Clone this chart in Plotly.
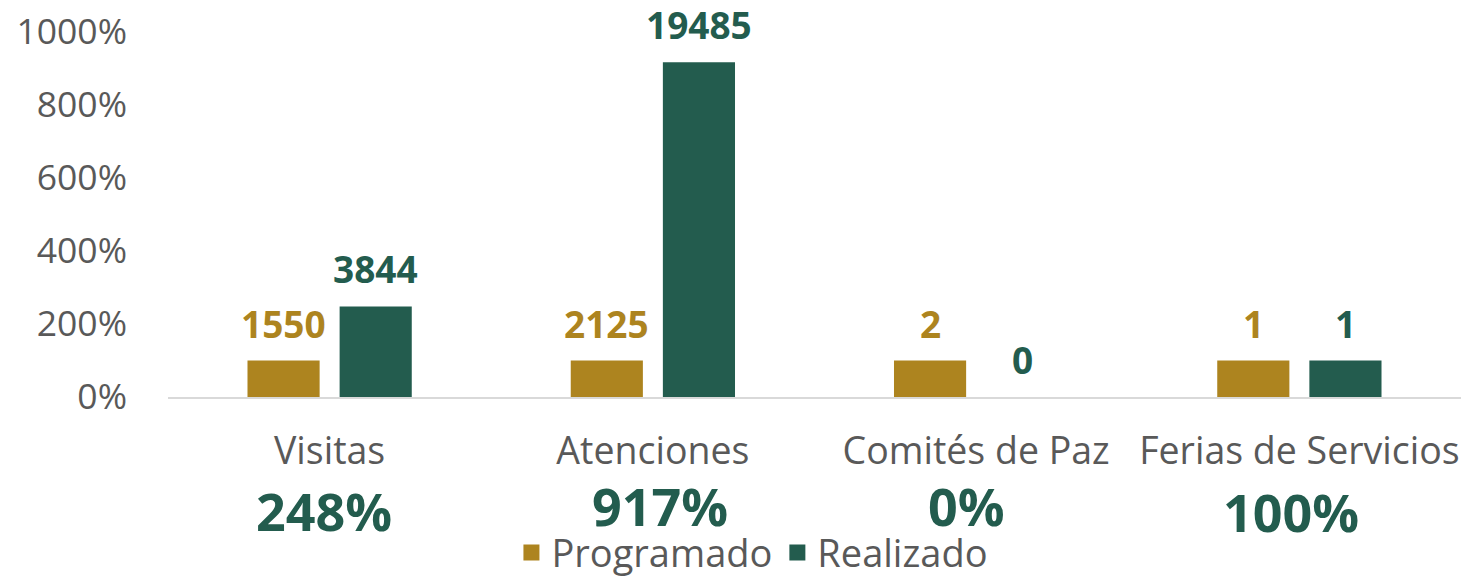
import plotly.graph_objects as go

categories = ["Visitas", "Atenciones", "Comités de Paz", "Ferias de Servicios"]
programado_counts = [1550, 2125, 2, 1]
realizado_counts = [3844, 19485, 0, 1]
programado_pct = [100, 100, 100, 100]
realizado_pct = [248, 917, 0, 100]
pct_labels = ["248%", "917%", "0%", "100%"]
y_ticks = [0, 200, 400, 600, 800, 1000]
y_ticklabels = ["0%", "200%", "400%", "600%", "800%", "1000%"]

GOLD = "#AD841F"
GREEN = "#235C4E"
GRAY = "#595959"
FONT = "Open Sans"

fig = go.Figure()
series = [
    ("Programado", programado_pct, programado_counts, GOLD, -46),
    ("Realizado", realizado_pct, realizado_counts, GREEN, 46),
]
for name, pct, counts, color, xs in series:
    fig.add_trace(go.Bar(
        name=name, x=categories, y=pct,
        marker=dict(color=color, line=dict(width=0)),
        showlegend=False, hoverinfo="skip",
    ))
    # legend proxy with a larger square symbol
    fig.add_trace(go.Scatter(
        name=name, x=[None], y=[None], mode="markers",
        marker=dict(symbol="square", size=24, color=color),
        showlegend=True, hoverinfo="skip",
    ))
    for cat, v, c in zip(categories, pct, counts):
        fig.add_annotation(
            x=cat, xref="x", y=v, yref="y", xshift=xs, yshift=10,
            text="<b>" + str(c) + "</b>", showarrow=False, yanchor="bottom",
            font=dict(family=FONT, size=37, color=color),
        )

pct_xshift = [-6, 7, -10, -8]
pct_yshift = [-113, -108, -108, -114]
for cat, lab, xs, ys in zip(categories, pct_labels, pct_xshift, pct_yshift):
    fig.add_annotation(
        x=cat, xref="x", y=0, yref="paper", xshift=xs, yshift=ys,
        text="<b>" + lab + "</b>", showarrow=False, yanchor="middle",
        font=dict(family=FONT, size=52, color=GREEN),
    )

fig.update_layout(
    width=1465, height=569,
    margin=dict(l=160, r=12, t=24, b=180, autoexpand=False),
    paper_bgcolor="white", plot_bgcolor="white",
    barmode="group", bargap=0.43, bargroupgap=0.217,
    font=dict(family=FONT, color=GRAY),
    showlegend=True,
    legend=dict(
        orientation="h", x=0.452, xanchor="center", y=-0.427, yanchor="middle",
        font=dict(family=FONT, size=38, color=GRAY),
        itemwidth=30, tracegroupgap=0, itemsizing="trace",
    ),
    xaxis=dict(
        showgrid=False, showline=True, linecolor="#D9D9D9", linewidth=2,
        ticks="", tickfont=dict(family=FONT, size=37.5, color=GRAY),
        ticklabelstandoff=20, automargin=False,
    ),
    yaxis=dict(
        range=[0, 1000], tickvals=y_ticks, ticktext=y_ticklabels,
        showgrid=False, zeroline=False, showline=False,
        tickfont=dict(family=FONT, size=35.5, color=GRAY),
        ticklabelstandoff=40, automargin=False, ticklabeloverflow="allow",
    ),
)

fig.write_html("out.html")
